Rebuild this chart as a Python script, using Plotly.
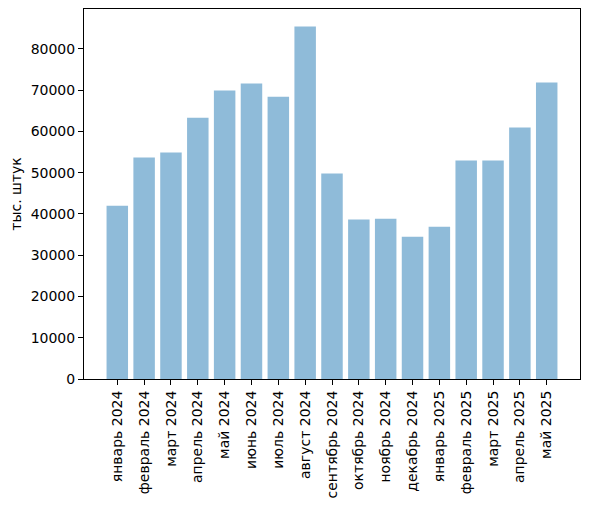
import plotly.graph_objects as go

# =================================================================================================
#   DATA
# =================================================================================================

months = [
    "январь 2024", "февраль 2024", "март 2024", "апрель 2024", "май 2024", "июнь 2024",
    "июль 2024", "август 2024", "сентябрь 2024", "октябрь 2024", "ноябрь 2024",
    "декабрь 2024", "январь 2025", "февраль 2025", "март 2025", "апрель 2025", "май 2025",
]
values = [
    42020, 53660, 54870, 63350, 69900, 71600, 68440, 85410, 49780, 38630, 38870,
    34500, 36930, 52930, 52930, 60930, 71840,
]
y_ticks = [0, 10000, 20000, 30000, 40000, 50000, 60000, 70000, 80000]

# =================================================================================================
#   PLOT
# =================================================================================================

fig = go.Figure()
fig.add_trace(
    go.Bar(
        x=list(range(len(months))),
        y=values,
        width=0.8,
        marker=dict(color="rgba(31,119,180,0.5)", line=dict(width=0)),
    )
)

axis_style = dict(
    showline=True,
    linecolor="black",
    linewidth=1,
    mirror=True,
    ticks="outside",
    ticklen=5,
    tickcolor="black",
    showgrid=False,
    zeroline=False,
)

# The page body has an 8px margin, so the margins below are shifted to compensate
fig.update_layout(
    width=589,
    height=506,
    margin=dict(l=76, r=17, t=1, b=135),
    plot_bgcolor="white",
    paper_bgcolor="white",
    font=dict(family="DejaVu Sans", size=14, color="black"),
    showlegend=False,
    xaxis=dict(
        **axis_style,
        range=[-1.24, 17.24],
        tickmode="array",
        tickvals=list(range(len(months))),
        ticktext=months,
        tickangle=-90,
    ),
    yaxis=dict(
        **axis_style,
        range=[0, 89680],
        tickmode="array",
        tickvals=y_ticks,
        ticktext=[str(v) for v in y_ticks],
        title=dict(text="тыс. штук", standoff=7, font=dict(size=14)),
    ),
)

fig.write_html("out.html")
